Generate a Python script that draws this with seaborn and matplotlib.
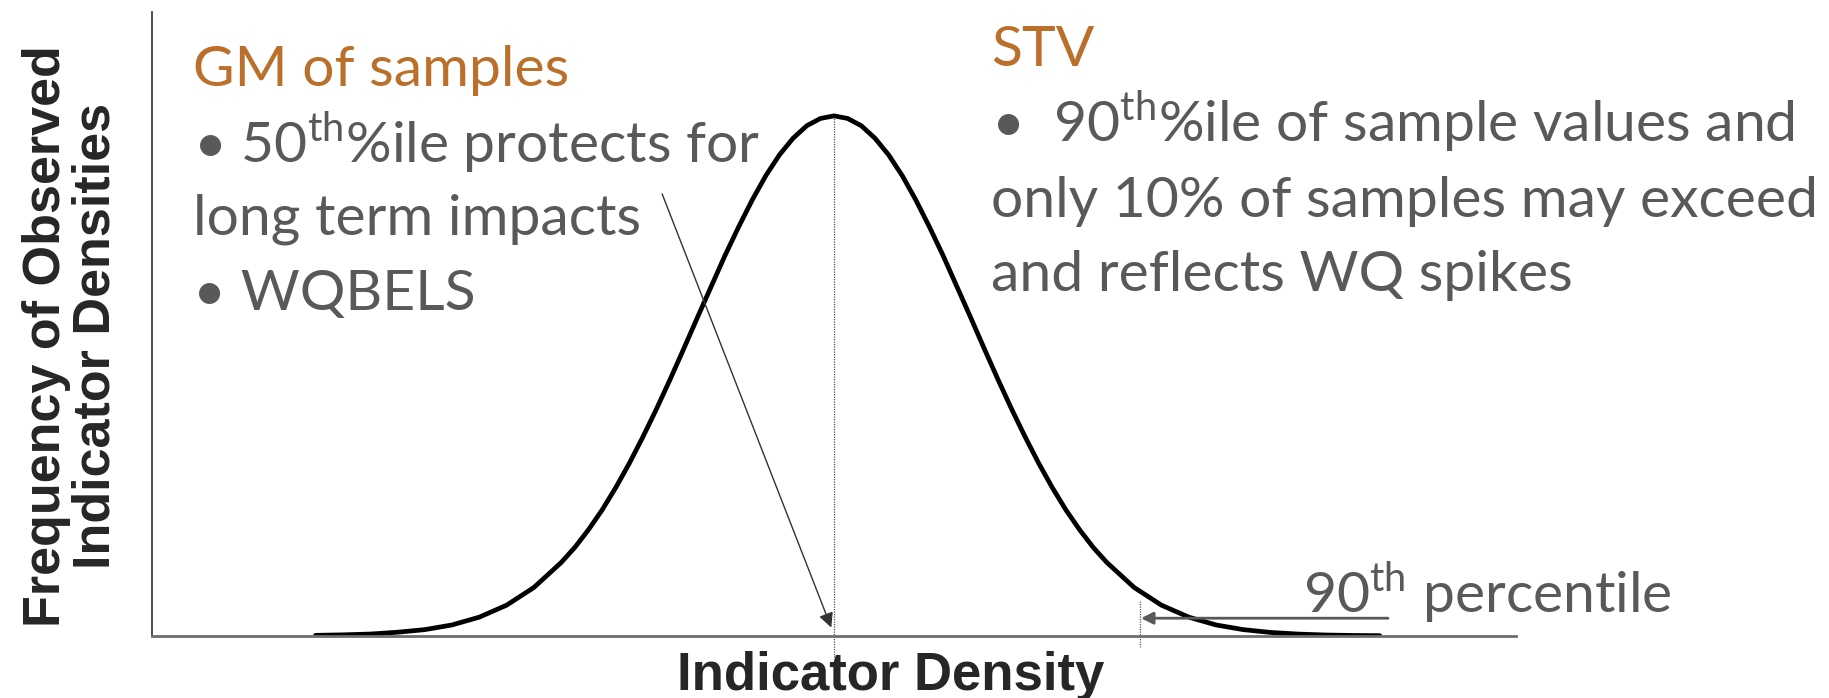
import numpy as np
import pandas as pd
import matplotlib
matplotlib.use("Agg")
import matplotlib.pyplot as plt
import seaborn as sns

# ── Curve (x in 0-100 axis units, y with peak = 100) ──
curve_x = [12, 14, 16, 18, 20, 22, 24, 26, 28, 30, 31, 32, 33, 34, 35, 36, 37,
           38, 39, 40, 41, 42, 43, 44, 45, 46, 47, 48, 49, 50, 51, 52, 53, 54,
           55, 56, 57, 58, 59, 60, 61, 62, 63, 64, 65, 66, 67, 68, 69, 70, 72,
           74, 76, 78, 80, 82, 84, 86, 88, 90]
curve_y = [0.1, 0.2, 0.35, 0.7, 1.2, 2.1, 3.6, 5.9, 9.3, 14.1, 17.0, 20.4, 24.2,
           28.5, 33.2, 38.3, 43.7, 49.4, 55.3, 61.3, 67.2, 73.1, 78.6, 83.8,
           88.5, 92.5, 95.7, 98.1, 99.5, 100, 99.5, 98.1, 95.7, 92.5, 88.5,
           83.8, 78.6, 73.1, 67.2, 61.3, 55.3, 49.4, 43.7, 38.3, 33.2, 28.5,
           24.2, 20.4, 17.0, 14.1, 9.3, 5.9, 3.6, 2.1, 1.2, 0.66, 0.35, 0.17,
           0.08, 0.04]

median_x = 50
p90_x = 72.4

left_head = "GM of samples"
left_lines = ["\u2022 50$^{\\mathrm{th}}$%ile protects for",
              "long term impacts",
              "\u2022 WQBELS"]
right_head = "STV"
right_lines = ["\u2022  90$^{\\mathrm{th}}$%ile of sample values and",
               "only 10% of samples may exceed",
               "and reflects WQ spikes"]
p90_label = "90$^{\\mathrm{th}}$ percentile"

ORANGE = "#BA6F2A"
GREY = "#595959"

sns.set_theme(style="white")
plt.rcParams["font.family"] = ["Lato", "DejaVu Sans"]
plt.rcParams["mathtext.fontset"] = "custom"
plt.rcParams["mathtext.rm"] = "Lato"

fig = plt.figure(figsize=(18.29, 6.98), dpi=100)
ax = fig.add_axes([0.083, 0.089, 0.746, 0.894])

df = pd.DataFrame({"x": curve_x, "y": curve_y})
sns.lineplot(data=df, x="x", y="y", ax=ax, color="black", linewidth=3.4)

ax.set_xlim(0, 100)
ax.set_ylim(0, 120)
ax.set_xticks([])
ax.set_yticks([])
ax.set_xlabel("")
ax.set_ylabel("")
ax.spines[["top", "right"]].set_visible(False)
ax.spines["left"].set_color("#404040")
ax.spines["left"].set_linewidth(1.3)
ax.spines["bottom"].set_color("#6e6e6e")
ax.spines["bottom"].set_linewidth(2.0)

# dotted guides at median and 90th percentile
peak = max(curve_y)
ax.plot([median_x, median_x], [peak, -4.5], color="#555555", lw=0.9,
        ls=(0, (1, 1)), clip_on=False, zorder=1)
ax.plot([p90_x, p90_x], [6.7, -2.2], color="#555555", lw=0.9,
        ls=(0, (1, 1)), clip_on=False, zorder=1)

# arrows
ax.annotate("", xy=(49.8, 1.6), xytext=(37.4, 85),
            arrowprops=dict(arrowstyle="-|>", color="#333333", lw=1.0,
                            mutation_scale=22, shrinkA=0, shrinkB=0))
ax.annotate("", xy=(72.5, 3.4), xytext=(90.6, 3.4),
            arrowprops=dict(arrowstyle="-|>", color=GREY, lw=2.0,
                            mutation_scale=18, shrinkA=0, shrinkB=0))

# text blocks
fs = 41
ax.text(3.0, 105.8, left_head, color=ORANGE, fontsize=fs, va="baseline")
for txt, yy in zip(left_lines, [91, 77.2, 62.6]):
    ax.text(3.0, yy, txt, color=GREY, fontsize=fs, va="baseline")
ax.text(61.5, 109.6, right_head, color=ORANGE, fontsize=fs, va="baseline")
for txt, yy in zip(right_lines, [95, 80.5, 66.4]):
    ax.text(61.5, yy, txt, color=GREY, fontsize=fs, va="baseline",
            clip_on=False)
ax.text(84.4, 4.5, p90_label, color=GREY, fontsize=fs, va="baseline")

# axis titles
fig.text(0.039, 0.518, "Frequency of Observed\nIndicator Densities",
         rotation=90, ha="center", va="center", fontsize=37.5,
         fontweight="bold", family=["Liberation Sans", "DejaVu Sans"],
         linespacing=1.0)
fig.text(0.487, 0.0115, "Indicator Density", ha="center", va="baseline",
         fontsize=38, fontweight="bold",
         family=["Liberation Sans", "DejaVu Sans"])

fig.savefig("out.png", dpi=100, facecolor="white")
